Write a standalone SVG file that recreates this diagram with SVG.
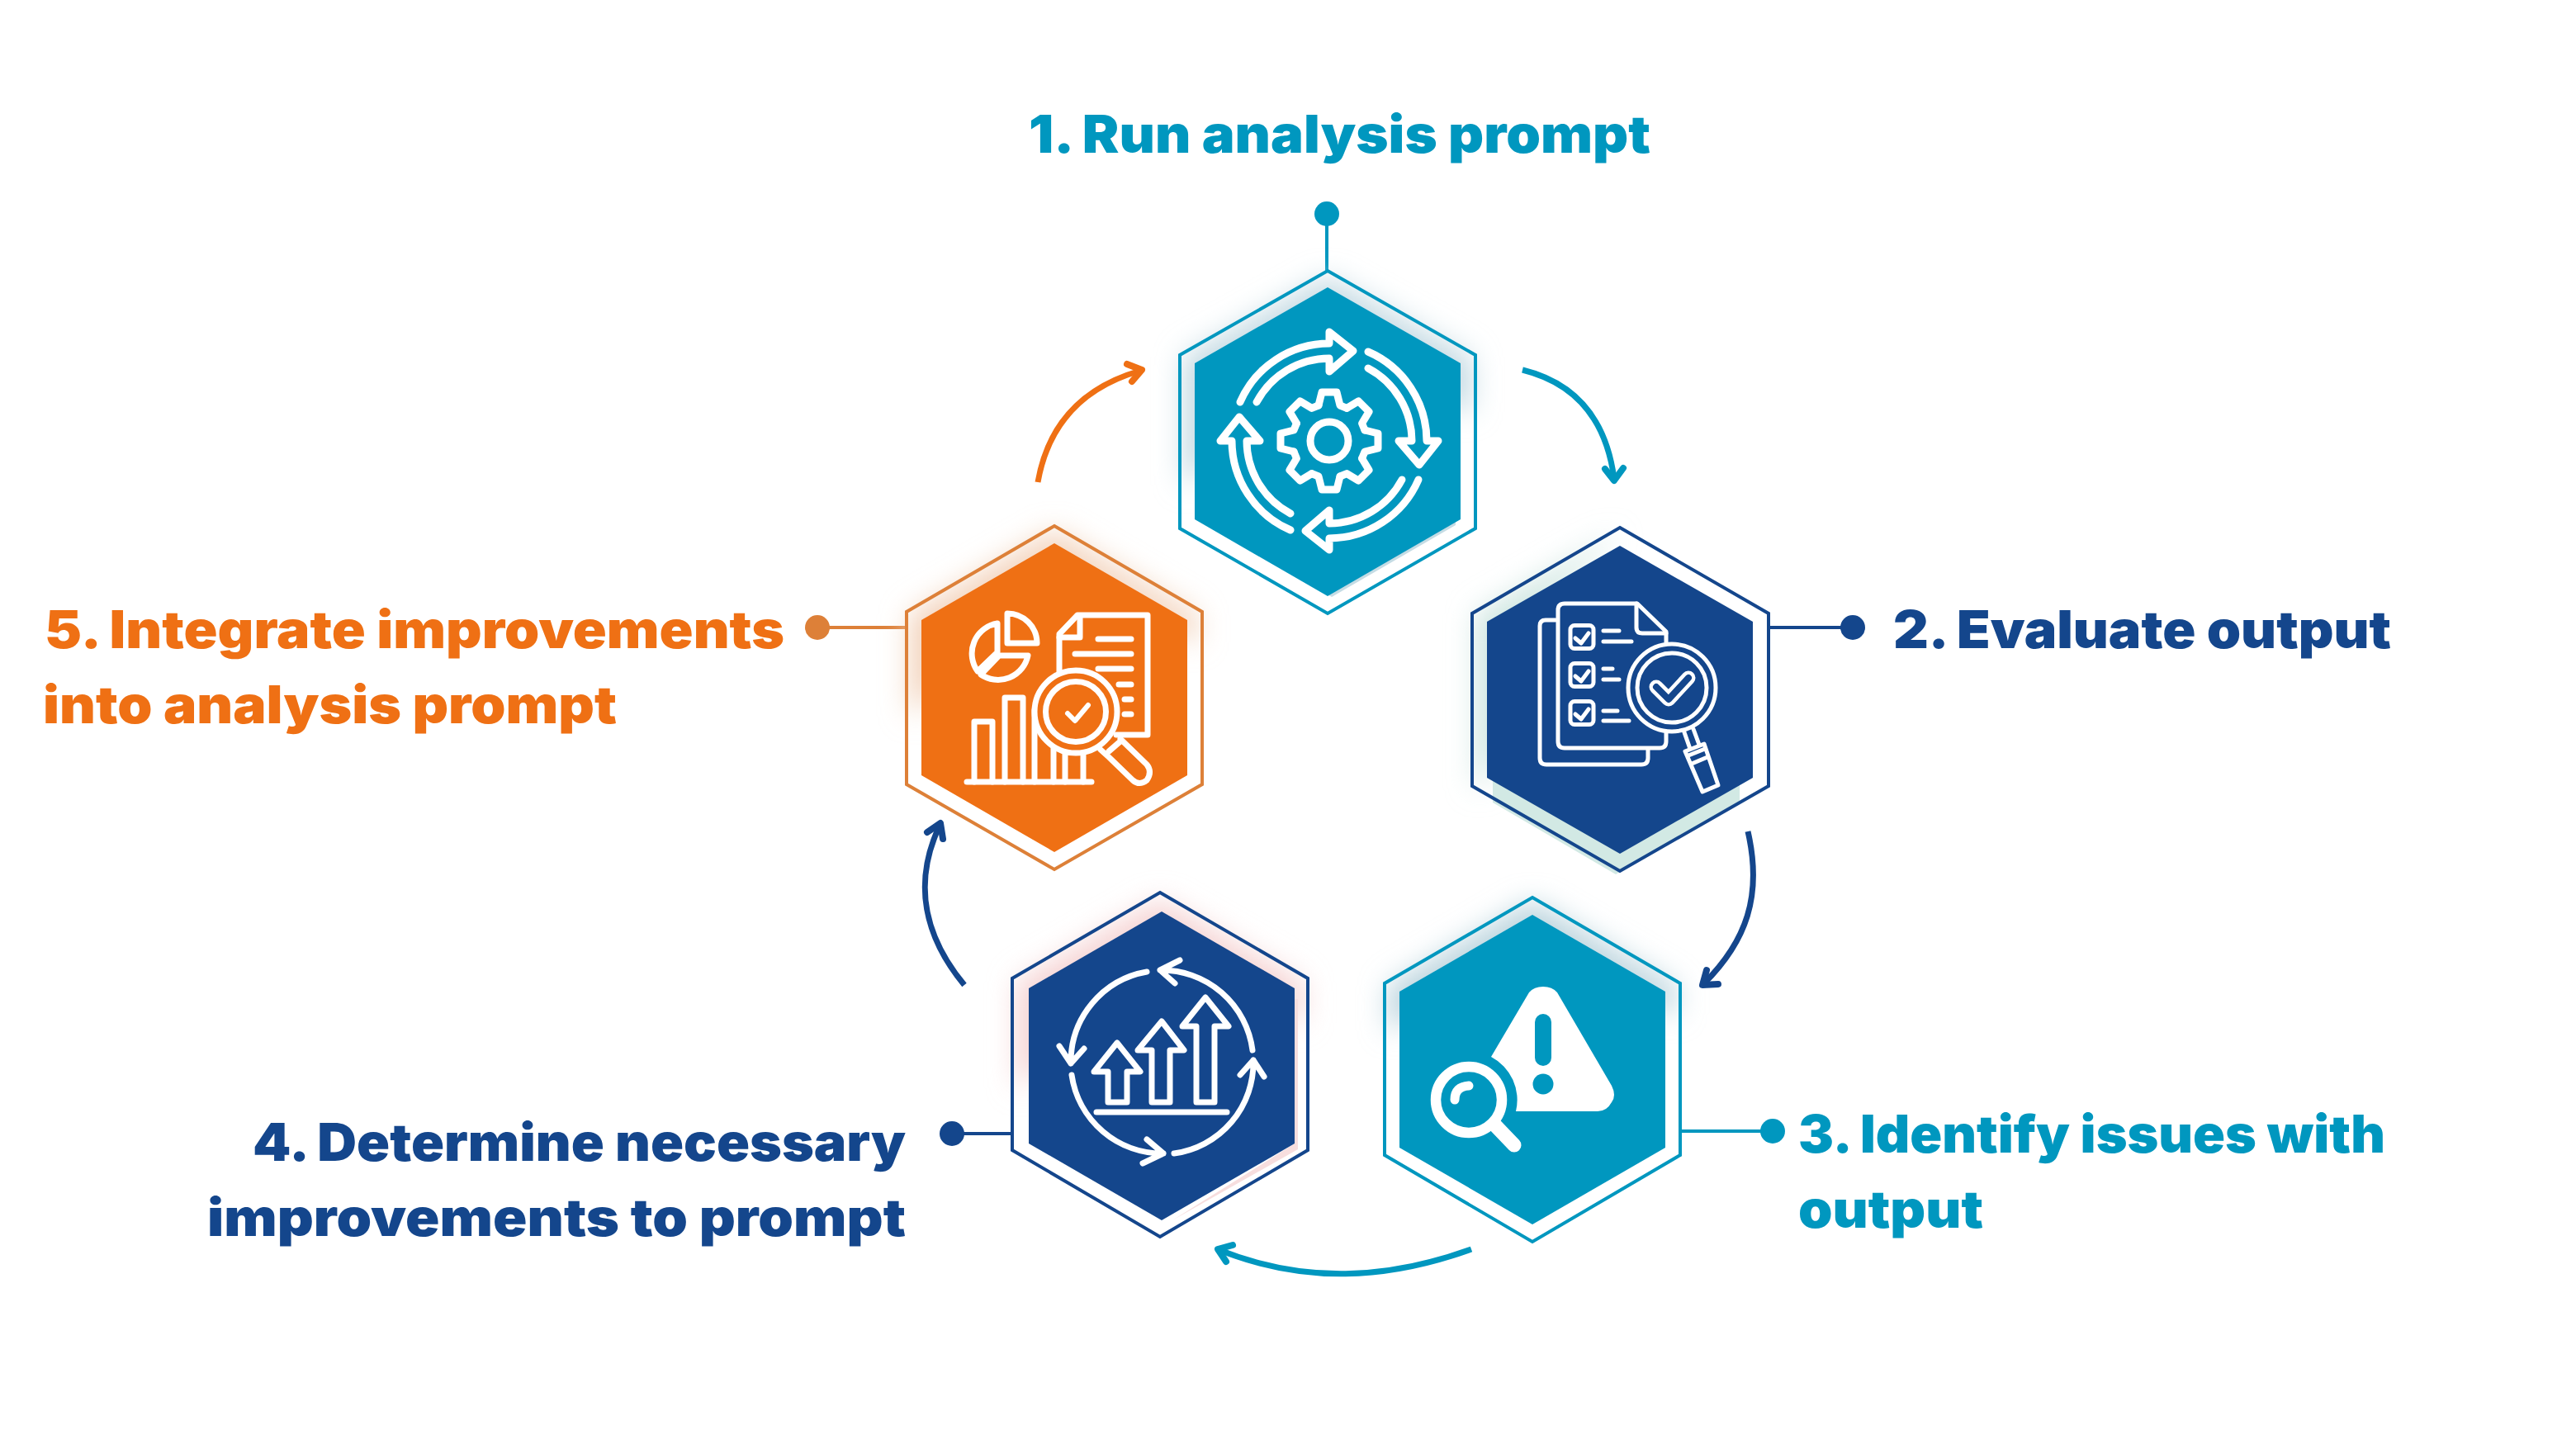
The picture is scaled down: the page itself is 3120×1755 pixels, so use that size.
<svg xmlns="http://www.w3.org/2000/svg" xmlns:xlink="http://www.w3.org/1999/xlink" width="3120" height="1755" viewBox="0 0 3120 1755">
<style>
text{font-family:"Inter","Liberation Sans",sans-serif;font-weight:900;font-size:63px}
.teal{fill:#0097BF}.navy{fill:#14468C}.orange{fill:#EF7014}
.ln{fill:none;stroke-width:4}
.ic{fill:none;stroke:#fff;stroke-linecap:round;stroke-linejoin:round}
.conn{fill:none;stroke-width:7}
.head{fill:none;stroke-width:8;stroke-linecap:round;stroke-linejoin:round}
</style>
<defs>
<filter id="blur" x="-30%" y="-30%" width="160%" height="160%"><feGaussianBlur stdDeviation="17"/></filter>
<path id="bigarrow" d="M47,-108A118,118 0 0 1 118,0L132,0L109,29L84,0L100,0A100,100 0 0 0 47,-88"/>
<path id="tooth" d="M43,-13L59,-9L59,9L43,13L39.6,21.2"/>
</defs>
<rect width="3120" height="1755" fill="#fff"/>

<g id="connectors">
<path class="conn" stroke="#0097BF" d="M1844,448C1905,463 1945,505 1955,580"/>
<path class="head" stroke="#0097BF" d="M1944,568L1955,582L1966,567"/>
<path class="conn" stroke="#14468C" d="M2117,1007C2135,1085 2115,1140 2064,1191"/>
<path class="head" stroke="#14468C" d="M2067,1175L2062,1193L2081,1192"/>
<path class="conn" stroke="#0097BF" d="M1782,1513C1680,1550 1580,1555 1477,1514"/>
<path class="head" stroke="#0097BF" d="M1493,1508L1475,1513L1485,1528"/>
<path class="conn" stroke="#14468C" d="M1168,1193C1120,1135 1105,1070 1138,1000"/>
<path class="head" stroke="#14468C" d="M1123,1008L1139,997L1142,1016"/>
<path class="conn" stroke="#EF7014" d="M1257,584C1270,510 1315,468 1381,449"/>
<path class="head" stroke="#EF7014" d="M1365,441L1383,448L1371,462"/>
<path class="ln" stroke="#0097BF" d="M1607,259V328"/>
<path class="ln" stroke="#14468C" d="M2142,760H2244"/>
<path class="ln" stroke="#0097BF" d="M2033,1370H2147"/>
<path class="ln" stroke="#14468C" d="M1153,1373H1226"/>
<path class="ln" stroke="#DD8038" d="M990,760H1098"/>
<circle cx="1607" cy="259" r="15" class="teal"/>
<circle cx="2244" cy="760" r="15" class="navy"/>
<circle cx="2147" cy="1370" r="15" class="teal"/>
<circle cx="1153" cy="1373" r="15" class="navy"/>
<circle cx="990" cy="760" r="15" fill="#DD8038"/>
</g>

<g id="node1">
<polygon fill="#C4DAE3" filter="url(#blur)" points="1434,590 1434,433 1608,336 1782,433 1782,500 1608,440"/>
<polygon points="1613,723 1763,636 1763,630 1608,720" fill="#C5DCE4"/>
<polygon class="ln" stroke="#0097BF" points="1608,328 1787,430 1787,640 1608,743 1429,640 1429,430"/>
<polygon class="teal" points="1608,348 1769,440 1769,629 1608,722 1447,629 1447,440"/>
<g class="ic" stroke-width="9" transform="translate(1610,534)">
<use href="#bigarrow"/><use href="#bigarrow" transform="rotate(90)"/><use href="#bigarrow" transform="rotate(180)"/><use href="#bigarrow" transform="rotate(270)"/>
<circle r="23"/>
<use href="#tooth"/><use href="#tooth" transform="rotate(45)"/><use href="#tooth" transform="rotate(90)"/><use href="#tooth" transform="rotate(135)"/><use href="#tooth" transform="rotate(180)"/><use href="#tooth" transform="rotate(225)"/><use href="#tooth" transform="rotate(270)"/><use href="#tooth" transform="rotate(315)"/>
</g>
<text x="1246" y="185" class="teal" textLength="753" lengthAdjust="spacingAndGlyphs">1. Run analysis prompt</text>
</g>

<g id="node2">
<polygon fill="#CFE6E1" filter="url(#blur)" points="1788,960 1788,745 1962,645 1880,730 1830,900"/>
<polygon fill="#D2E9E4" points="1808,945 1808,972 1957,1059 2107,970 2107,945"/>
<polygon class="ln" stroke="#14468C" points="1962,639 2142,743 2142,952 1962,1055 1783,952 1783,743"/>
<polygon class="navy" points="1962,661 2123,753 2123,942 1962,1034 1801,942 1801,753"/>
<g class="ic" stroke-width="5">
<path d="M1884,751H1872Q1865,751 1865,758V918Q1865,926 1873,926H1988Q1996,926 1996,918V907"/>
<path d="M2018,778V765L1983,731H1895Q1887,731 1887,739V898Q1887,906 1895,906H2010Q2018,906 2018,898V885"/>
<path d="M1982,731V760Q1982,767 1989,767H2018"/>
<rect x="1902" y="757.5" width="28" height="28" rx="5"/><rect x="1902" y="803.5" width="28" height="28" rx="5"/><rect x="1902" y="849.5" width="28" height="28" rx="5"/>
<path d="M1908,773L1915,779L1924,767M1908,819L1915,825L1924,813M1908,865L1915,871L1924,859"/>
<path d="M1942,764H1961M1942,777H1976M1942,810H1953M1942,823H1961M1942,861H1959M1942,873H1973"/>
<circle cx="2025" cy="833" r="53" fill="#14468C"/><circle cx="2025" cy="833" r="42"/>
<path d="M2006,832L2021,847L2045,821" stroke-width="17"/>
<path d="M2006,832L2021,847L2045,821" stroke="#14468C" stroke-width="8"/>
<path d="M2040,887L2047,907M2051,883L2058,902"/>
<path d="M2041,910L2064,901L2081,951L2062,959ZM2045,915L2065,907M2049,925L2068,917"/>
</g>
<text x="2293" y="785" class="navy" textLength="603" lengthAdjust="spacingAndGlyphs">2. Evaluate output</text>
</g>

<g id="node3">
<polygon fill="#B9D3DD" filter="url(#blur)" points="1682,1250 1682,1195 1856,1092 2030,1195 2030,1230 1856,1150"/>
<polygon class="ln" stroke="#0097BF" points="1856,1087 2035,1191 2035,1399 1856,1504 1677,1399 1677,1191"/>
<polygon class="teal" points="1856,1108 2017,1201 2017,1390 1856,1483 1695,1390 1695,1201"/>
<path fill="#fff" d="M1852,1202Q1858,1195 1869,1195Q1880,1195 1886,1202L1952,1315Q1958,1327 1952,1335Q1946,1346 1935,1346H1836A59,59 0 0 0 1806,1280Z"/>
<rect class="teal" x="1859" y="1228" width="20" height="63" rx="10"/>
<circle class="teal" cx="1869" cy="1313" r="12.5"/>
<g class="ic">
<circle cx="1779" cy="1332" r="40" stroke-width="12.5"/>
<path d="M1811,1363L1834,1387" stroke-width="17"/>
<path d="M1762,1332Q1762,1316 1779,1315" stroke-width="11"/>
</g>
<text x="2178" y="1396" class="teal" textLength="711" lengthAdjust="spacingAndGlyphs">3. Identify issues with</text>
<text x="2178" y="1487" class="teal" textLength="224" lengthAdjust="spacingAndGlyphs">output</text>
</g>

<g id="node4">
<polygon fill="#F5D3D3" filter="url(#blur)" points="1232,1320 1232,1190 1405,1090 1578,1190 1578,1240 1405,1170"/>
<polygon points="1420,1478 1572,1392 1572,1210 1568,1210 1568,1385" fill="#F7DEDE"/>
<polygon class="ln" stroke="#14468C" points="1405,1081 1584,1185 1584,1393 1405,1498 1226,1393 1226,1185"/>
<polygon class="navy" points="1407,1104 1568,1197 1568,1385 1407,1478 1246,1385 1246,1197"/>
<g class="ic" stroke-width="7">
<path d="M1389,1177A111,111 0 0 0 1297,1288M1283,1267L1297,1288L1313,1270"/>
<path d="M1298,1302A111,111 0 0 0 1409,1397M1389,1380L1409,1397L1384,1409"/>
<path d="M1422,1397A111,111 0 0 0 1518,1284M1502,1302L1518,1284L1531,1304"/>
<path d="M1517,1272A111,111 0 0 0 1405,1175M1429,1163L1405,1175L1423,1191"/>
<path d="M1325,1298L1353,1263L1381,1298H1365V1335H1342V1298Z"/>
<path d="M1378,1272L1407,1237L1434,1272H1417V1335H1395V1272Z"/>
<path d="M1432,1243L1460,1208L1488,1243H1471V1335H1449V1243Z"/>
<path d="M1328,1347H1486"/>
</g>
<text x="306" y="1406" class="navy" textLength="791" lengthAdjust="spacingAndGlyphs">4. Determine necessary</text>
<text x="251" y="1497" class="navy" textLength="846" lengthAdjust="spacingAndGlyphs">improvements to prompt</text>
</g>

<g id="node5">
<polygon fill="#F3D3BC" filter="url(#blur)" points="1102,870 1102,745 1277,643 1450,745 1450,780 1277,690"/>
<polygon class="ln" stroke="#DD8038" points="1277,637 1456,741 1456,950 1277,1053 1098,950 1098,741"/>
<polygon class="orange" points="1277,658 1438,751 1438,939 1277,1032 1116,939 1116,751"/>
<g class="ic" stroke-width="7">
<path d="M1208,755A37,37 0 0 0 1184,813L1208,790Z"/>
<path d="M1245,794H1210L1188,817A37,37 0 0 0 1245,794Z"/>
<path d="M1220,743A36,36 0 0 1 1256,779H1220Z"/>
<path d="M1171,947H1322"/>
<path d="M1180,947V874H1202V947M1217,947V845H1239V947M1253,947V860M1276,947V880M1290,947V900M1312,947V900"/>
<path d="M1283,814V768L1305,745H1390V890H1352"/>
<path d="M1308,747V772H1283"/>
<path d="M1330,774H1370M1302,792H1370M1330,810H1370M1355,829H1370M1362,847H1370M1362,865H1370"/>
<circle cx="1303" cy="862" r="50" fill="#EF7014"/><circle cx="1303" cy="862" r="36.5"/>
<path d="M1293,864L1302,873L1318,854" stroke-width="6"/>
<path d="M1333,908L1343,917L1372,945Q1380,952 1389,945Q1396,935 1389,926L1357,895M1343,910L1358,897"/>
</g>
<text x="54" y="785" fill="#EF7014" textLength="896" lengthAdjust="spacingAndGlyphs">5. Integrate improvements</text>
<text x="52" y="876" fill="#EF7014" textLength="695" lengthAdjust="spacingAndGlyphs">into analysis prompt</text>
</g>
</svg>
